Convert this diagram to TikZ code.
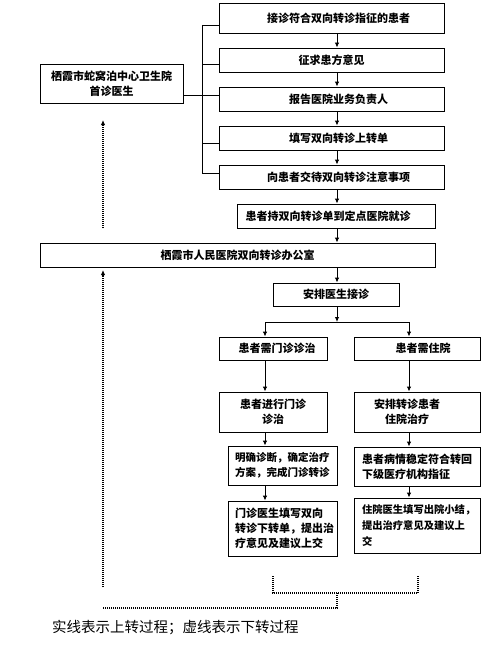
\documentclass[tikz,border=0pt]{standalone}
\usepackage{fontspec}
\setmainfont{Noto Sans CJK SC}
\usetikzlibrary{arrows.meta}
\begin{document}
\begin{tikzpicture}[x=1pt,y=-1pt,
  box/.style={draw,line width=0.9pt,inner sep=0pt,align=center,font=\bfseries\fontsize{11}{15}\selectfont},
  lbox/.style={box,align=left},
  conn/.style={line width=0.9pt},
  arr/.style={conn,-{Latex[length=5pt,width=4.5pt]}},
  dots/.style={line width=1.1pt,dash pattern=on 1pt off 1pt},
  darr/.style={dots,-{Latex[length=5pt,width=4.5pt]}}]
\useasboundingbox (0,0) rectangle (491,661);
% boxes
\node[box,minimum width=225pt,minimum height=30pt] (B1) at (331.5,18) {\hspace*{14pt}接诊符合双向转诊指征的患者};
\node[box,minimum width=225pt,minimum height=24pt] (B2) at (331.5,60) {征求患方意见};
\node[box,minimum width=225pt,minimum height=24pt] (B3) at (331.5,99) {\hspace*{14pt}报告医院业务负责人};
\node[box,minimum width=225pt,minimum height=24pt] (B4) at (331.5,138) {\hspace*{14pt}填写双向转诊上转单};
\node[box,minimum width=225pt,minimum height=24pt] (B5) at (331.5,177) {\hspace*{14pt}向患者交待双向转诊注意事项};
\node[box,minimum width=198pt,minimum height=24pt] (B6) at (336,216) {患者持双向转诊单到定点医院就诊\hspace*{16pt}};
\node[box,minimum width=395pt,minimum height=24pt] (B7) at (237.5,255) {栖霞市人民医院双向转诊办公室};
\node[box,minimum width=143pt,minimum height=39pt] (L) at (111.5,83.5) {栖霞市蛇窝泊中心卫生院\\首诊医生};
\node[box,minimum width=126pt,minimum height=23pt] (B8) at (336,294.5) {安排医生接诊};
\node[box,minimum width=108pt,minimum height=23pt] (B9) at (273,348.5) {\hspace*{8pt}患者需门诊诊治};
\node[box,minimum width=126pt,minimum height=23pt] (B10) at (417,348.5) {\hspace*{12pt}患者需住院};
\node[box,minimum width=108pt,minimum height=40pt] (B11) at (273,412) {患者进行门诊\\诊治};
\node[box,minimum width=126pt,minimum height=40pt] (B12) at (417,412) {安排转诊患者\hspace*{20pt}\\住院治疗\hspace*{20pt}};
\node[lbox,minimum width=109pt,minimum height=39pt,text width=95pt,font=\bfseries\fontsize{10.5}{15}\selectfont] (B13) at (282.5,465.5) {明确诊断，确定治疗\\方案，完成门诊转诊};
\node[lbox,minimum width=126pt,minimum height=39pt,text width=110pt] (B14) at (417,466.5) {患者病情稳定符合转回\\下级医疗机构指征};
\node[lbox,minimum width=109pt,minimum height=55pt,text width=95pt] (B15) at (282.5,528.5) {门诊医生填写双向\\转诊下转单，提出治\\疗意见及建议上交};
\node[lbox,minimum width=126pt,minimum height=55pt,text width=110pt,font=\bfseries\fontsize{10.3}{16}\selectfont] (B16) at (417,525.5) {住院医生填写出院小结，\\提出治疗意见及建议上\\交};
\node[anchor=west,inner sep=0pt,font=\fontsize{14.5}{17}\selectfont] (note) at (52,628) {实线表示上转过程；虚线表示下转过程};
% coordinates
\coordinate (bt) at (202,25);
\coordinate (bb) at (202,173);
\coordinate (ax) at (337,0);
\coordinate (lx) at (265,0);
\coordinate (rx) at (409,0);
\coordinate (sp) at (337,322);
\coordinate (d1a) at (103,228);
\coordinate (d1b) at (103,120);
\coordinate (d2a) at (103,587);
\coordinate (d2b) at (103,270);
\coordinate (k1) at (273,576);
\coordinate (k2) at (418,576);
\coordinate (k3) at (337,608);
\coordinate (k4) at (103,608);
% bus
\draw[conn] (bt) -- (bb);
\draw[conn] (bt) -- (B1.west |- bt);
\draw[conn] (202,64) -- (B2.west |- 0,64);
\draw[conn] (L.east |- 0,95) -- (B3.west |- 0,95);
\draw[conn] (202,143) -- (B4.west |- 0,143);
\draw[conn] (bb) -- (B5.west |- bb);
% main arrows
\draw[arr] (B1.south -| ax) -- (B2.north -| ax);
\draw[arr] (B2.south -| ax) -- (B3.north -| ax);
\draw[arr] (B3.south -| ax) -- (B4.north -| ax);
\draw[arr] (B4.south -| ax) -- (B5.north -| ax);
\draw[arr] (B5.south -| ax) -- (B6.north -| ax);
\draw[arr] (B6.south -| ax) -- (B7.north -| ax);
\draw[arr] (B7.south -| ax) -- (B8.north -| ax);
\draw[arr] (B8.south -| ax) -- (sp);
\draw[conn] (sp -| lx) -- (sp -| rx);
\draw[arr] (sp -| lx) -- (B9.north -| lx);
\draw[arr] (sp -| rx) -- (B10.north -| rx);
\draw[arr] (B9.south -| lx) -- (B11.north -| lx);
\draw[arr] (B11.south -| lx) -- (B13.north -| lx);
\draw[arr] (B13.south -| lx) -- (B15.north -| lx);
\draw[arr] (B10.south -| rx) -- (B12.north -| rx);
\draw[arr] (B12.south -| rx) -- (B14.north -| rx);
\draw[arr] (B14.south -| rx) -- (B16.north -| rx);
% dotted
\draw[darr] (d1a) -- (d1b);
\draw[darr] (d2a) -- (d2b);
\draw[dots] (k1) -- (k1 |- 0,593) -- (k2 |- 0,593) -- (k2);
\draw[dots] (k3 |- 0,593) -- (k3) -- (k4);
\end{tikzpicture}
\end{document}
